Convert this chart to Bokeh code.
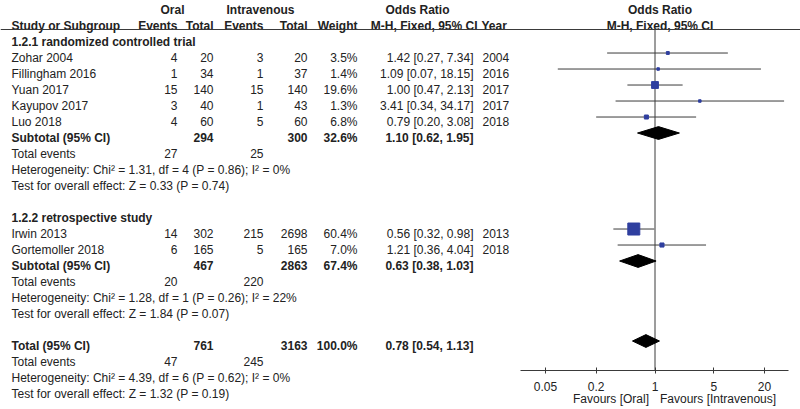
import math
from bokeh.plotting import figure
from bokeh.models import (Range1d, Span, Label, FixedTicker, ColumnDataSource,
                          LogScale, LogAxis)
from bokeh.core.properties import value
from bokeh.embed import file_html
from bokeh.resources import INLINE

# ---------------- data ----------------
studies = ["Zohar 2004", "Fillingham 2016", "Yuan 2017", "Kayupov 2017", "Luo 2018",
           "Irwin 2013", "Gortemoller 2018"]
study_rows = [1, 2, 3, 4, 5, 12, 13]
oral_events = [4, 1, 15, 3, 4, 14, 6]
oral_total = [20, 34, 140, 40, 60, 302, 165]
iv_events = [3, 1, 15, 1, 5, 215, 5]
iv_total = [20, 37, 140, 43, 60, 2698, 165]
weight = [3.5, 1.4, 19.6, 1.3, 6.8, 60.4, 7.0]
or_est = [1.42, 1.09, 1.00, 3.41, 0.79, 0.56, 1.21]
or_lo = [0.27, 0.07, 0.47, 0.34, 0.20, 0.32, 0.36]
or_hi = [7.34, 18.15, 2.13, 34.17, 3.08, 0.98, 4.04]
years = [2004, 2016, 2017, 2017, 2018, 2013, 2018]

group_labels = ["1.2.1 randomized controlled trial", "1.2.2 retrospective study"]
group_rows = [0, 11]

sub_labels = ["Subtotal (95% CI)", "Subtotal (95% CI)", "Total (95% CI)"]
sub_rows = [6, 14, 19]
sub_oral_total = [294, 467, 761]
sub_iv_total = [300, 2863, 3163]
sub_weight = [32.6, 67.4, 100.0]
sub_est = [1.10, 0.63, 0.78]
sub_lo = [0.62, 0.38, 0.54]
sub_hi = [1.95, 1.03, 1.13]

ev_rows = [7, 15, 20]
ev_oral = [27, 20, 47]
ev_iv = [25, 220, 245]
het_rows = [8, 16, 21]
het_chi = [1.31, 1.28, 4.39]
het_df = [4, 1, 6]
het_p = [0.86, 0.26, 0.62]
het_i2 = [0, 22, 0]
test_rows = [9, 17, 22]
test_z = [0.33, 1.84, 1.32]
test_p = [0.74, 0.07, 0.19]

axis_ticks = [0.05, 0.2, 1, 5, 20]
axis_labels = ["0.05", "0.2", "1", "5", "20"]

# ---------------- style / layout ----------------
FONT = "Liberation Sans"
FS = "12px"
TXT = "#222222"
LINE = "#3a3a3a"
BLUE = "#2f3f9f"
MARK_SHIFT = 0.28

X0, X1 = 0, 800           # horizontal layout space (page pixels)
NULL_PX = 654.5           # where OR = 1 sits
PX_DEC = 84.17            # pixels per decade on the OR scale
AXIS_PX = (520, 788)      # extent of the OR axis line
AXIS_ROW = 20.5625        # row position of the OR axis line


def or_at(px):
    return 10 ** ((px - NULL_PX) / PX_DEC)


# column anchors (pixel layout of the table)
X_NAME = 11
X_OE = 177
X_OT = 213
X_IE = 263
X_IT = 307
X_W = 357
X_OR = 473
X_YEAR = 482


def add_text(p, xs, ys, texts, align="left", bold=False, color=TXT, x_offset=0,
             x_range_name="default"):
    src = ColumnDataSource(dict(x=xs, y=ys, t=texts))
    p.text(x="x", y="y", text="t", source=src, text_font=value(FONT),
           text_font_size=value(FS), text_align=align, text_baseline="middle",
           text_font_style="bold" if bold else "normal", text_color=color,
           x_offset=x_offset, x_range_name=x_range_name)


def fmt_or(e, l, h):
    return f"{e:.2f} [{l:.2f}, {h:.2f}]"


p = figure(width=X1 - X0, height=409, x_range=Range1d(X0, X1),
           y_range=Range1d(23.0, -2.5625), output_backend="svg",
           toolbar_location=None, min_border=0,
           x_axis_location=None, y_axis_location=None)
p.grid.visible = False
p.outline_line_color = None
p.extra_x_ranges = {"or": Range1d(or_at(X0), or_at(X1))}
p.extra_x_scales = {"or": LogScale()}

p.add_layout(Span(location=-0.75, dimension="width", line_color=LINE, line_width=1))

# header
add_text(p, [172, 260, 417], [-2, -2, -2], ["Oral", "Intravenous", "Odds Ratio"],
         align="center", bold=True)
add_text(p, [X_NAME], [-1], ["Study or Subgroup"], bold=True)
add_text(p, [X_OE, X_OT, X_IE, X_IT, X_W, 477], [-1] * 6,
         ["Events", "Total", "Events", "Total", "Weight", "M-H, Fixed, 95% CI"],
         align="right", bold=True)
add_text(p, [481], [-1], ["Year"], bold=True)
add_text(p, [1, 1], [-2, -1], ["Odds Ratio", "M-H, Fixed, 95% CI"],
         align="center", bold=True, x_offset=5, x_range_name="or")

# group headers
add_text(p, [X_NAME] * len(group_rows), group_rows, group_labels, bold=True)

# studies
n = len(studies)
add_text(p, [X_NAME] * n, study_rows, studies)
add_text(p, [X_OE] * n, study_rows, [str(v) for v in oral_events], align="right")
add_text(p, [X_OT] * n, study_rows, [str(v) for v in oral_total], align="right")
add_text(p, [X_IE] * n, study_rows, [str(v) for v in iv_events], align="right")
add_text(p, [X_IT] * n, study_rows, [str(v) for v in iv_total], align="right")
add_text(p, [X_W] * n, study_rows, [f"{w:.1f}%" for w in weight], align="right")
add_text(p, [X_OR] * n, study_rows,
         [fmt_or(e, l, h) for e, l, h in zip(or_est, or_lo, or_hi)], align="right")
add_text(p, [X_YEAR] * n, study_rows, [str(y) for y in years])

# subtotals
add_text(p, [X_NAME] * 3, sub_rows, sub_labels, bold=True)
add_text(p, [X_OT] * 3, sub_rows, [str(v) for v in sub_oral_total], align="right", bold=True)
add_text(p, [X_IT] * 3, sub_rows, [str(v) for v in sub_iv_total], align="right", bold=True)
add_text(p, [X_W] * 3, sub_rows, [f"{w:.1f}%" for w in sub_weight], align="right", bold=True)
add_text(p, [X_OR] * 3, sub_rows,
         [fmt_or(e, l, h) for e, l, h in zip(sub_est, sub_lo, sub_hi)], align="right", bold=True)

# total events, heterogeneity, tests
add_text(p, [X_NAME] * 3, ev_rows, ["Total events"] * 3)
add_text(p, [X_OE] * 3, ev_rows, [str(v) for v in ev_oral], align="right")
add_text(p, [X_IE] * 3, ev_rows, [str(v) for v in ev_iv], align="right")
add_text(p, [X_NAME] * 3, het_rows,
         [f"Heterogeneity: Chi\u00b2 = {c:.2f}, df = {d} (P = {pp:.2f}); I\u00b2 = {i}%"
          for c, d, pp, i in zip(het_chi, het_df, het_p, het_i2)])
add_text(p, [X_NAME] * 3, test_rows,
         [f"Test for overall effect: Z = {z:.2f} (P = {pp:.2f})" for z, pp in zip(test_z, test_p)])

# ---------------- forest ----------------
p.segment(x0=[1], y0=[-0.75], x1=[1], y1=[AXIS_ROW], line_color=LINE, line_width=1,
          x_range_name="or")

mark_y = [r - MARK_SHIFT for r in study_rows]
p.segment(x0=or_lo, y0=mark_y, x1=or_hi, y1=mark_y, line_color=LINE, line_width=1,
          x_range_name="or")
sizes = [max(2.5, 12 * math.sqrt(w / max(weight))) for w in weight]
p.scatter(x=or_est, y=mark_y, size=sizes, marker="square",
          fill_color=BLUE, line_color=BLUE, x_range_name="or")

H = 0.4
xs, ys = [], []
for r, e, l, h in zip(sub_rows, sub_est, sub_lo, sub_hi):
    yc = r - MARK_SHIFT
    xs.append([l, e, h, e])
    ys.append([yc, yc - H, yc, yc + H])
p.patches(xs=xs, ys=ys, fill_color="black", line_color="black", x_range_name="or")

ax = LogAxis(x_range_name="or", fixed_location=AXIS_ROW)
ax.ticker = FixedTicker(ticks=axis_ticks)
ax.major_label_overrides = {t: s for t, s in zip(axis_ticks, axis_labels)}
ax.bounds = (or_at(AXIS_PX[0]), or_at(AXIS_PX[1]))
ax.axis_line_color = LINE
ax.major_tick_line_color = LINE
ax.major_tick_in = 3
ax.major_tick_out = 3
ax.minor_tick_line_color = None
ax.major_label_standoff = 8
ax.major_label_text_font = FONT
ax.major_label_text_font_size = FS
ax.major_label_text_color = TXT
p.add_layout(ax, "below")

p.add_layout(Label(x=1, y=22.3125, x_offset=-6, text="Favours [Oral]", x_range_name="or",
                   text_align="right", text_baseline="middle", text_font=FONT,
                   text_font_size=FS, text_color=TXT))
p.add_layout(Label(x=1, y=22.3125, x_offset=5, text="Favours [Intravenous]", x_range_name="or",
                   text_align="left", text_baseline="middle", text_font=FONT,
                   text_font_size=FS, text_color=TXT))

open("out.html", "w").write(file_html(p, INLINE))
